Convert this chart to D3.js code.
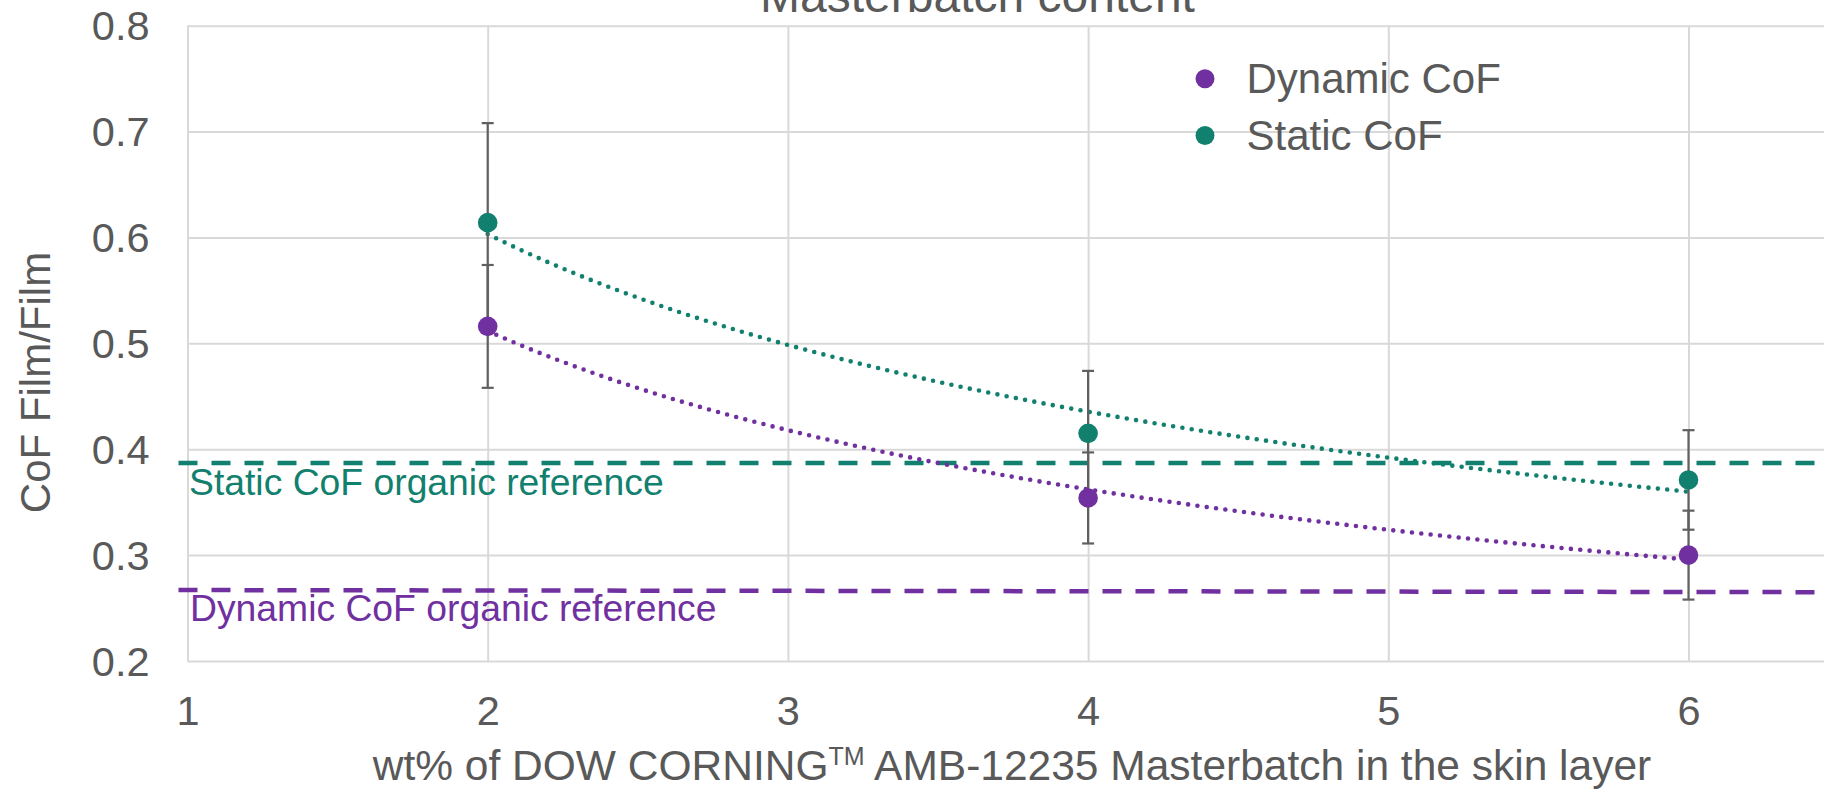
<!DOCTYPE html>
<html>
<head>
<meta charset="utf-8">
<script src="https://cdn.jsdelivr.net/npm/d3@7/dist/d3.min.js"></script>
<style>
  html, body { margin: 0; padding: 0; background: #fff; }
  svg { display: block; font-family: "Liberation Sans", Arial, sans-serif; }
</style>
</head>
<body>
<svg id="chart" width="1824" height="790"></svg>
<script>
// Masterbatch loading in the skin layer (wt%)
const loadings = [2, 4, 6];
// Coefficient of friction, film/film
const dynamicCoF = [0.516, 0.354, 0.300];
const dynamicErr = [0.058, 0.043, 0.042];
const staticCoF  = [0.614, 0.415, 0.371];
const staticErr  = [0.094, 0.059, 0.047];
// Organic slip reference levels (start / end of the line)
const staticRef  = [0.387, 0.387];
const dynamicRef = [0.267, 0.265];
// Axis ticks
const xTicks = [1, 2, 3, 4, 5, 6];
const yTicks = [0.2, 0.3, 0.4, 0.5, 0.6, 0.7, 0.8];

const PURPLE = "#7030A0";
const TEAL = "#12806E";
const GREY_TEXT = "#595959";
const GRID = "#D9D9D9";

const W = 1824, H = 790;
const svg = d3.select("#chart");

const x = d3.scaleLinear().domain([1, 6]).range([187.5, 1688.5]);
const y = d3.scaleLinear().domain([0.2, 0.8]).range([661, 25.7]);
const xMaxVisible = x.invert(W + 10);

// Gridlines
const gridY = d3.axisLeft(y).tickValues(yTicks).tickSize(-(W + 10 - x(1))).tickFormat("");
svg.append("g").attr("transform", `translate(${x(1)},0)`).call(gridY)
  .call(g => g.select(".domain").remove())
  .call(g => g.selectAll("line").attr("stroke", GRID).attr("stroke-width", 2));

const gridX = d3.axisBottom(x).tickValues(xTicks).tickSize(-(y(0.2) - y(0.8))).tickFormat("");
svg.append("g").attr("transform", `translate(0,${y(0.2)})`).call(gridX)
  .call(g => g.select(".domain").remove())
  .call(g => g.selectAll("line").attr("stroke", GRID).attr("stroke-width", 2));

// Tick labels
const yAxis = d3.axisLeft(y).tickValues(yTicks).tickSize(0).tickPadding(0).tickFormat(d3.format(".1f"));
svg.append("g").attr("transform", `translate(149.5,0)`).call(yAxis)
  .call(g => g.select(".domain").remove())
  .call(g => g.selectAll("text").attr("fill", GREY_TEXT).attr("font-size", 41.5)
    .attr("font-family", "Liberation Sans, Arial, sans-serif").attr("dy", "0.34em"));

const xAxis = d3.axisBottom(x).tickValues(xTicks).tickSize(0).tickPadding(0).tickFormat(d3.format("d"));
svg.append("g").attr("transform", `translate(0,725)`).call(xAxis)
  .call(g => g.select(".domain").remove())
  .call(g => g.selectAll("text").attr("fill", GREY_TEXT).attr("font-size", 41.5)
    .attr("font-family", "Liberation Sans, Arial, sans-serif").attr("dy", 0));

// Organic reference lines
function refLine(vals, color) {
  svg.append("line")
    .attr("x1", x(0.97)).attr("x2", x(xMaxVisible))
    .attr("y1", y(vals[0])).attr("y2", y(vals[1]))
    .attr("stroke", color).attr("stroke-width", 4.5)
    .attr("stroke-dasharray", "19 14");
}
refLine(staticRef, TEAL);
refLine(dynamicRef, PURPLE);

svg.append("text").attr("x", 189).attr("y", 495)
  .attr("fill", TEAL).attr("font-size", 37.3).text("Static CoF organic reference");
svg.append("text").attr("x", 190).attr("y", 621)
  .attr("fill", PURPLE).attr("font-size", 37.3).text("Dynamic CoF organic reference");

// Power-law trendlines (least squares in log-log space), drawn over the data range
function powerFit(xs, ys) {
  const lx = xs.map(Math.log), ly = ys.map(Math.log);
  const mx = d3.mean(lx), my = d3.mean(ly);
  const b = d3.sum(lx, (v, i) => (v - mx) * (ly[i] - my)) / d3.sum(lx, v => (v - mx) ** 2);
  const a = Math.exp(my - b * mx);
  return t => a * Math.pow(t, b);
}
function trend(vals, color) {
  const f = powerFit(loadings, vals);
  const lo = d3.min(loadings), hi = d3.max(loadings);
  const pts = d3.range(lo, hi + 1e-9, (hi - lo) / 200).map(t => [t, f(t)]);
  svg.append("path")
    .attr("d", d3.line().x(d => x(d[0])).y(d => y(d[1]))(pts))
    .attr("fill", "none").attr("stroke", color).attr("stroke-width", 4.6)
    .attr("stroke-linecap", "round").attr("stroke-dasharray", "0 9.4");
}
trend(staticCoF, TEAL);
trend(dynamicCoF, PURPLE);

// Error bars
function errorBars(vals, errs) {
  const g = svg.append("g").attr("stroke", "#606060").attr("stroke-width", 2.2);
  loadings.forEach((t, i) => {
    const cx = x(t), top = y(vals[i] + errs[i]), bot = y(vals[i] - errs[i]);
    g.append("line").attr("x1", cx).attr("x2", cx).attr("y1", top).attr("y2", bot);
    g.append("line").attr("x1", cx - 6).attr("x2", cx + 6).attr("y1", top).attr("y2", top);
    g.append("line").attr("x1", cx - 6).attr("x2", cx + 6).attr("y1", bot).attr("y2", bot);
  });
}
errorBars(staticCoF, staticErr);
errorBars(dynamicCoF, dynamicErr);

// Markers
function markers(vals, color) {
  svg.append("g").selectAll("circle").data(loadings).join("circle")
    .attr("cx", d => x(d)).attr("cy", (d, i) => y(vals[i])).attr("r", 9.8)
    .attr("fill", color);
}
markers(staticCoF, TEAL);
markers(dynamicCoF, PURPLE);

// Legend
const legend = [
  { label: "Dynamic CoF", color: PURPLE, yb: 93.3 },
  { label: "Static CoF", color: TEAL, yb: 150 }
];
const lg = svg.append("g");
legend.forEach(d => {
  lg.append("circle").attr("cx", 1205).attr("cy", d.yb - 14.5).attr("r", 9.5).attr("fill", d.color);
  lg.append("text").attr("x", 1246.5).attr("y", d.yb).attr("font-size", 42)
    .attr("fill", GREY_TEXT).text(d.label);
});

// Chart title (its upper part lies above the canvas)
svg.append("text").attr("x", 977.5).attr("y", 12).attr("text-anchor", "middle")
  .attr("font-size", 48).attr("fill", GREY_TEXT).text("Masterbatch content");

// Axis titles
svg.append("text")
  .attr("transform", "translate(50,382.5) rotate(-90)")
  .attr("text-anchor", "middle").attr("font-size", 42).attr("fill", GREY_TEXT)
  .text("CoF Film/Film");

const xt = svg.append("text").attr("x", 1012).attr("y", 780).attr("text-anchor", "middle")
  .attr("font-size", 42.5).attr("fill", GREY_TEXT);
xt.append("tspan").text("wt% of DOW CORNING");
xt.append("tspan").attr("font-size", 25).attr("dy", -15).text("TM");
xt.append("tspan").attr("dy", 15).text(" AMB-12235 Masterbatch in the skin layer");
</script>
</body>
</html>
